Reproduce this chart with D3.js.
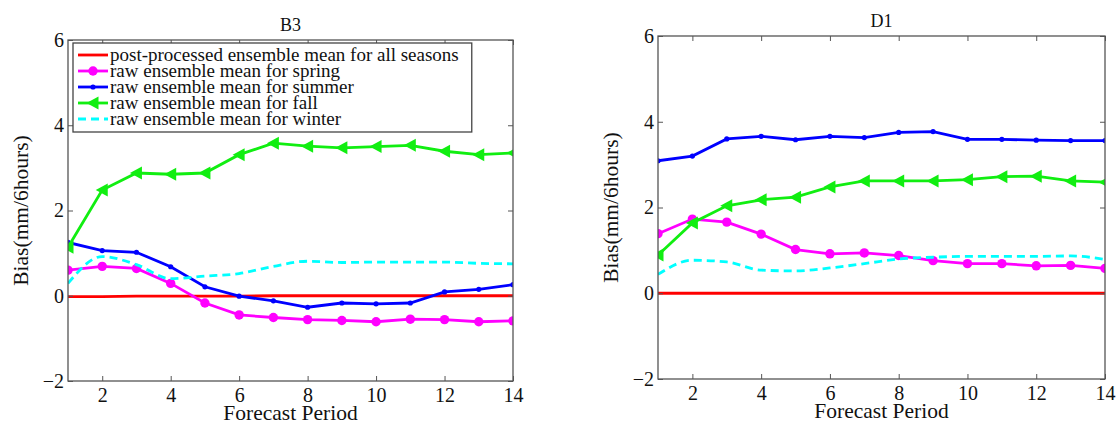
<!DOCTYPE html>
<html>
<head>
<meta charset="utf-8">
<script src="https://cdn.jsdelivr.net/npm/d3@7"></script>
<style>
  html, body { margin: 0; padding: 0; background: #fff; }
  text { font-family: "Liberation Serif", "Times New Roman", serif; fill: #111; }
</style>
</head>
<body>
<script>
// forecast periods (x) and tick labels
const periods = [1, 2, 3, 4, 5, 6, 7, 8, 9, 10, 11, 12, 13, 14];
const xTicks = [2, 4, 6, 8, 10, 12, 14];
const yTicks = [-2, 0, 2, 4, 6];

const legendLabels = [
    "post-processed ensemble mean for all seasons",
    "raw ensemble mean for spring",
    "raw ensemble mean for summer",
    "raw ensemble mean for fall",
    "raw ensemble mean for winter"
];

// station B3
const b3Post   = [-0.02, -0.02, -0.01, -0.01, -0.01, -0.01, 0.0, 0.0, 0.0, 0.0, 0.0, 0.0, 0.0, 0.0];
const b3Spring = [0.60, 0.69, 0.64, 0.29, -0.17, -0.45, -0.51, -0.56, -0.58, -0.61, -0.55, -0.56, -0.61, -0.59];
const b3Summer = [1.25, 1.06, 1.02, 0.68, 0.21, -0.01, -0.12, -0.27, -0.17, -0.19, -0.17, 0.09, 0.15, 0.26];
const b3Fall   = [1.14, 2.48, 2.88, 2.85, 2.88, 3.31, 3.58, 3.51, 3.47, 3.50, 3.53, 3.39, 3.31, 3.35];
const b3Winter = [0.29, 0.92, 0.73, 0.40, 0.46, 0.52, 0.69, 0.81, 0.78, 0.79, 0.79, 0.79, 0.76, 0.75];

// station D1
const d1Post   = [0.0, 0.0, 0.0, 0.0, 0.0, 0.0, 0.0, 0.0, 0.0, 0.0, 0.0, 0.0, 0.0, 0.0];
const d1Spring = [1.39, 1.73, 1.66, 1.38, 1.02, 0.92, 0.94, 0.88, 0.76, 0.69, 0.69, 0.64, 0.65, 0.58];
const d1Summer = [3.09, 3.20, 3.60, 3.66, 3.58, 3.66, 3.63, 3.75, 3.77, 3.59, 3.59, 3.57, 3.56, 3.56];
const d1Fall   = [0.89, 1.64, 2.04, 2.18, 2.24, 2.48, 2.62, 2.62, 2.62, 2.65, 2.72, 2.73, 2.62, 2.59];
const d1Winter = [0.44, 0.77, 0.73, 0.54, 0.52, 0.59, 0.69, 0.80, 0.84, 0.86, 0.86, 0.86, 0.87, 0.79];

const width = 1119, height = 424;

const styles = [
    { color: "#ff0000", marker: null, dash: null },
    { color: "#ff00ff", marker: "circle", dash: null },
    { color: "#0000ff", marker: "dot", dash: null },
    { color: "#11ee11", marker: "triangle", dash: null },
    { color: "#00ffff", marker: null, dash: "8,5", smooth: true }
];

const svg = d3.select("body").append("svg")
    .attr("width", width)
    .attr("height", height)
    .attr("font-family", "'Liberation Serif', serif");

function drawMarker(g, type, x, y, color) {
    if (type === "circle") {
        g.append("circle").attr("cx", x).attr("cy", y).attr("r", 4.7).attr("fill", color);
    } else if (type === "dot") {
        g.append("circle").attr("cx", x).attr("cy", y).attr("r", 2.6).attr("fill", color);
    } else if (type === "triangle") {
        // left-pointing triangle
        g.append("path")
            .attr("d", `M${x - 6.5},${y} L${x + 5.5},${y - 6.5} L${x + 5.5},${y + 6.5} Z`)
            .attr("fill", color);
    }
}

function drawPanel(id, title, box, series, withLegend) {
    const x = d3.scaleLinear().domain([1, 14]).range([box.x0, box.x1]);
    const y = d3.scaleLinear().domain([-2, 6]).range([box.y1, box.y0]);
    const g = svg.append("g");

    g.append("clipPath").attr("id", "clip-" + id)
        .append("rect")
        .attr("x", box.x0).attr("y", box.y0)
        .attr("width", box.x1 - box.x0).attr("height", box.y1 - box.y0);

    const plot = g.append("g").attr("clip-path", `url(#clip-${id})`);

    series.forEach((vals, i) => {
        const st = styles[i];
        const line = d3.line()
            .x((d, j) => x(periods[j]))
            .y(d => y(d))
            .curve(st.smooth ? d3.curveMonotoneX : d3.curveLinear);
        plot.append("path")
            .datum(vals)
            .attr("d", line)
            .attr("fill", "none")
            .attr("stroke", st.color)
            .attr("stroke-width", 2.8)
            .attr("stroke-dasharray", st.dash);
        if (st.marker) {
            vals.forEach((v, j) => drawMarker(plot, st.marker, x(periods[j]), y(v), st.color));
        }
    });

    // axes with inward ticks on all four sides
    const fmt = d => (d < 0 ? "\u2212" + Math.abs(d) : d);
    const bottom = g.append("g").attr("transform", `translate(0,${box.y1})`)
        .call(d3.axisBottom(x).tickValues(xTicks).tickSizeInner(-5).tickSizeOuter(0).tickPadding(7));
    const top = g.append("g").attr("transform", `translate(0,${box.y0})`)
        .call(d3.axisTop(x).tickValues(xTicks).tickSizeInner(-5).tickSizeOuter(0).tickFormat(""));
    const left = g.append("g").attr("transform", `translate(${box.x0},0)`)
        .call(d3.axisLeft(y).tickValues(yTicks).tickSizeInner(-5).tickSizeOuter(0).tickPadding(4).tickFormat(fmt));
    const right = g.append("g").attr("transform", `translate(${box.x1},0)`)
        .call(d3.axisRight(y).tickValues(yTicks).tickSizeInner(-5).tickSizeOuter(0).tickFormat(""));

    [bottom, top, left, right].forEach(a => {
        a.attr("font-family", null).attr("font-size", null);
        a.select(".domain").remove();
        a.selectAll("line").attr("stroke", "#555");
        a.selectAll("text")
            .style("font-size", "20px")
            .attr("fill", "#111");
    });

    g.append("rect")
        .attr("x", box.x0).attr("y", box.y0)
        .attr("width", box.x1 - box.x0).attr("height", box.y1 - box.y0)
        .attr("fill", "none").attr("stroke", "#555").attr("stroke-width", 1.3);

    g.append("text")
        .attr("x", (box.x0 + box.x1) / 2).attr("y", box.y0 - 9)
        .attr("text-anchor", "middle").style("font-size", "18px")
        .text(title);

    g.append("text")
        .attr("x", (box.x0 + box.x1) / 2).attr("y", box.y1 + 39)
        .attr("text-anchor", "middle").style("font-size", "21.5px")
        .text("Forecast Period");

    g.append("text")
        .attr("transform", `translate(${box.x0 - 40},${(box.y0 + box.y1) / 2}) rotate(-90)`)
        .attr("text-anchor", "middle").style("font-size", "21.5px")
        .text("Bias(mm/6hours)");

    if (withLegend) {
        const lx = box.x0 + 5, ly = box.y0 + 3;
        const lg = g.append("g");
        const frame = lg.append("rect")
            .attr("x", lx).attr("y", ly).attr("height", 89)
            .attr("fill", "#fff").attr("stroke", "#444").attr("stroke-width", 1.3);
        legendLabels.forEach((lab, i) => {
            const cy = ly + 12 + i * 16;
            const st = styles[i];
            lg.append("line")
                .attr("x1", lx + 5).attr("x2", lx + 35)
                .attr("y1", cy).attr("y2", cy)
                .attr("stroke", st.color).attr("stroke-width", 2.8)
                .attr("stroke-dasharray", st.dash);
            if (st.marker) drawMarker(lg, st.marker, lx + 20, cy, st.color);
        });
        // all legend rows in one text block, MATLAB-style tight line spacing
        const txt = lg.append("text").style("font-size", "19px");
        let maxEnd = 0;
        legendLabels.forEach((lab, i) => {
            const ts = txt.append("tspan")
                .attr("x", lx + 37).attr("y", ly + 18 + i * 16)
                .text(lab);
            maxEnd = Math.max(maxEnd, lx + 37 + ts.node().getComputedTextLength());
        });
        frame.attr("width", maxEnd + 13 - lx);
    }
}

drawPanel("b3", "B3", { x0: 68, x1: 513, y0: 40, y1: 381 },
    [b3Post, b3Spring, b3Summer, b3Fall, b3Winter], true);
drawPanel("d1", "D1", { x0: 658, x1: 1105, y0: 36, y1: 379 },
    [d1Post, d1Spring, d1Summer, d1Fall, d1Winter], false);
</script>
</body>
</html>
